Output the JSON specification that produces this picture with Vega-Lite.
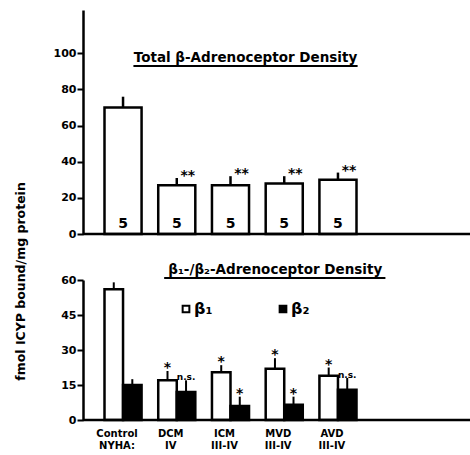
{
  "$schema": "https://vega.github.io/schema/vega-lite/v6.json",
  "padding": {"left": 14, "top": 10, "right": 0, "bottom": 0},
  "spacing": 46,
  "bounds": "flush",
  "config": {
    "font": "DejaVu Sans",
    "view": {"stroke": null},
    "axis": {"labelFont": "DejaVu Sans", "labelFontWeight": "bold", "labelColor": "black", "domainColor": "black", "tickColor": "black", "grid": false, "titleColor": "black", "titleFont": "DejaVu Sans", "titleFontWeight": "bold", "labelOverlap": false},
    "text": {"font": "DejaVu Sans", "fontWeight": "bold", "color": "black"},
    "legend": {"labelFont": "DejaVu Sans", "labelFontWeight": "bold", "labelColor": "black"}
  },
  "datasets": {
    "total": [
      {"group": "Control", "value": 70, "err": 76, "n": 5, "sig": ""},
      {"group": "DCM", "value": 27, "err": 31, "n": 5, "sig": "**"},
      {"group": "ICM", "value": 27, "err": 32, "n": 5, "sig": "**"},
      {"group": "MVD", "value": 28, "err": 32, "n": 5, "sig": "**"},
      {"group": "AVD", "value": 30, "err": 34, "n": 5, "sig": "**"}
    ],
    "subtypes": [
      {"group": "Control", "receptor": "β₁", "value": 56, "err": 59, "sig": ""},
      {"group": "Control", "receptor": "β₂", "value": 15, "err": 17.5, "sig": ""},
      {"group": "DCM", "receptor": "β₁", "value": 17, "err": 21, "sig": "*"},
      {"group": "DCM", "receptor": "β₂", "value": 12, "err": 17, "sig": "n.s."},
      {"group": "ICM", "receptor": "β₁", "value": 20.5, "err": 23.5, "sig": "*"},
      {"group": "ICM", "receptor": "β₂", "value": 6, "err": 10, "sig": "*"},
      {"group": "MVD", "receptor": "β₁", "value": 22, "err": 26.5, "sig": "*"},
      {"group": "MVD", "receptor": "β₂", "value": 6.5, "err": 10, "sig": "*"},
      {"group": "AVD", "receptor": "β₁", "value": 19, "err": 22.5, "sig": "*"},
      {"group": "AVD", "receptor": "β₂", "value": 13, "err": 18, "sig": "n.s."}
    ],
    "title1": [{"t": "Total β-Adrenoceptor Density"}],
    "title2": [{"t": "β₁-/β₂-Adrenoceptor Density"}]
  },
  "vconcat": [
    {
      "width": 387,
      "height": 224,
      "encoding": {
        "x": {"field": "group", "type": "nominal", "sort": ["Control", "DCM", "ICM", "MVD", "AVD"],
          "scale": {"domain": ["Control", "DCM", "ICM", "MVD", "AVD"], "range": [21.5, 273.5], "paddingInner": 0.31, "paddingOuter": 0},
          "axis": null}
      },
      "layer": [
        {
          "data": {"name": "total"},
          "mark": {"type": "bar", "fill": "white", "stroke": "black", "strokeWidth": 2.5},
          "encoding": {
            "y": {"field": "value", "type": "quantitative", "scale": {"domain": [0, 124], "nice": false},
              "axis": {"values": [0, 20, 40, 60, 80, 100], "title": null, "domainWidth": 2.5, "tickWidth": 2, "tickSize": 6, "labelPadding": 1, "labelFontSize": 11}}
          }
        },
        {
          "data": {"name": "total"},
          "mark": {"type": "rule", "stroke": "black", "strokeWidth": 2.5},
          "encoding": {"y": {"field": "value", "type": "quantitative"}, "y2": {"field": "err"}}
        },
        {
          "data": {"name": "title1"},
          "mark": {"type": "rule", "stroke": "black", "strokeWidth": 2.5},
          "encoding": {"x": null, "y": {"datum": 0}}
        },
        {
          "data": {"name": "total"},
          "mark": {"type": "text", "fontSize": 14, "baseline": "middle", "dy": -10},
          "encoding": {"y": {"datum": 0}, "text": {"field": "n"}}
        },
        {
          "data": {"name": "total"},
          "mark": {"type": "text", "fontSize": 14, "baseline": "middle", "dx": 11, "dy": -2},
          "encoding": {"y": {"field": "err", "type": "quantitative"}, "text": {"field": "sig"}}
        },
        {
          "data": {"name": "title1"},
          "mark": {"type": "text", "fontSize": 13.5, "baseline": "middle", "dx": 15},
          "encoding": {"x": {"datum": "ICM"}, "y": {"datum": 97.4}, "text": {"field": "t"}}
        },
        {
          "data": {"name": "title1"},
          "mark": {"type": "rule", "stroke": "black", "strokeWidth": 2},
          "encoding": {"x": {"datum": "Control", "bandPosition": 0.78}, "x2": {"datum": "AVD", "bandPosition": 1.03}, "y": {"datum": 93}}
        }
      ]
    },
    {
      "width": 387,
      "height": 140,
      "encoding": {
        "x": {"field": "group", "type": "nominal", "sort": ["Control", "DCM", "ICM", "MVD", "AVD"],
          "scale": {"domain": ["Control", "DCM", "ICM", "MVD", "AVD"], "range": [21.5, 273.5], "paddingInner": 0.31, "paddingOuter": 0},
          "axis": {"ticks": false, "domain": false, "title": null, "labelAngle": 0, "labelFontSize": 10, "labelPadding": 8, "labelLineHeight": 12, "labelOffset": -6,
            "labelExpr": "datum.value == 'Control' ? ['Control', 'NYHA:'] : datum.value == 'DCM' ? ['DCM', 'IV'] : [datum.value, 'III-IV']"}}
      },
      "layer": [
        {
          "data": {"name": "subtypes"},
          "mark": {"type": "bar", "stroke": "black", "strokeWidth": 2.5},
          "encoding": {
            "xOffset": {"field": "receptor", "sort": ["β₁", "β₂"], "scale": {"paddingInner": 0, "paddingOuter": 0}},
            "y": {"field": "value", "type": "quantitative", "scale": {"domain": [0, 60], "nice": false},
              "axis": {"values": [0, 15, 30, 45, 60], "tickCount": 5, "labelOverlap": false, "title": "fmol ICYP bound/mg protein", "titleX": -63, "titleY": 1, "titleBaseline": "middle", "titleAlign": "center", "titleFontSize": 12.5,
                "domainWidth": 2.5, "tickWidth": 2, "tickSize": 6, "labelPadding": 1, "labelFontSize": 11}},
            "fill": {"field": "receptor", "type": "nominal", "sort": ["β₁", "β₂"], "scale": {"domain": ["β₁", "β₂"], "range": ["white", "black"]},
              "legend": {"title": null, "orient": "none", "legendX": 95, "legendY": 291, "direction": "horizontal", "symbolType": "square", "symbolSize": 45, "symbolStrokeColor": "black", "symbolStrokeWidth": 2, "labelFontSize": 16, "columnPadding": 62, "padding": 0, "labelOffset": 0}}
          }
        },
        {
          "data": {"name": "subtypes"},
          "mark": {"type": "rule", "stroke": "black", "strokeWidth": 2},
          "encoding": {
            "xOffset": {"field": "receptor", "sort": ["β₁", "β₂"]},
            "y": {"field": "value", "type": "quantitative",
              "axis": {"values": [0, 15, 30, 45, 60], "tickCount": 5, "labelOverlap": false, "title": "fmol ICYP bound/mg protein", "titleX": -63, "titleY": 1, "titleBaseline": "middle", "titleAlign": "center", "titleFontSize": 12.5,
                "domainWidth": 2.5, "tickWidth": 2, "tickSize": 6, "labelPadding": 1, "labelFontSize": 11}},
            "y2": {"field": "err"}
          }
        },
        {
          "data": {"name": "title2"},
          "mark": {"type": "rule", "stroke": "black", "strokeWidth": 2.5},
          "encoding": {"x": null, "y": {"datum": 0,
              "axis": {"values": [0, 15, 30, 45, 60], "tickCount": 5, "labelOverlap": false, "title": "fmol ICYP bound/mg protein", "titleX": -63, "titleY": 1, "titleBaseline": "middle", "titleAlign": "center", "titleFontSize": 12.5,
                "domainWidth": 2.5, "tickWidth": 2, "tickSize": 6, "labelPadding": 1, "labelFontSize": 11}}}
        },
        {
          "data": {"name": "subtypes"},
          "mark": {"type": "text", "baseline": "middle", "dy": -3},
          "encoding": {
            "xOffset": {"field": "receptor", "sort": ["β₁", "β₂"]},
            "y": {"field": "err", "type": "quantitative",
              "axis": {"values": [0, 15, 30, 45, 60], "tickCount": 5, "labelOverlap": false, "title": "fmol ICYP bound/mg protein", "titleX": -63, "titleY": 1, "titleBaseline": "middle", "titleAlign": "center", "titleFontSize": 12.5,
                "domainWidth": 2.5, "tickWidth": 2, "tickSize": 6, "labelPadding": 1, "labelFontSize": 11}},
            "text": {"field": "sig"},
            "size": {"condition": {"test": "datum.sig == 'n.s.'", "value": 9}, "value": 14}
          }
        },
        {
          "data": {"name": "title2"},
          "mark": {"type": "text", "fontSize": 13.5, "baseline": "middle", "dx": -9},
          "encoding": {"x": {"datum": "MVD"}, "y": {"datum": 64.3,
              "axis": {"values": [0, 15, 30, 45, 60], "tickCount": 5, "labelOverlap": false, "title": "fmol ICYP bound/mg protein", "titleX": -63, "titleY": 1, "titleBaseline": "middle", "titleAlign": "center", "titleFontSize": 12.5,
                "domainWidth": 2.5, "tickWidth": 2, "tickSize": 6, "labelPadding": 1, "labelFontSize": 11}}, "text": {"field": "t"}}
        },
        {
          "data": {"name": "title2"},
          "mark": {"type": "rule", "stroke": "black", "strokeWidth": 2},
          "encoding": {"x": {"datum": "DCM", "bandPosition": 0.16}, "x2": {"datum": "AVD", "bandPosition": 1.78}, "y": {"datum": 60.9,
              "axis": {"values": [0, 15, 30, 45, 60], "tickCount": 5, "labelOverlap": false, "title": "fmol ICYP bound/mg protein", "titleX": -63, "titleY": 1, "titleBaseline": "middle", "titleAlign": "center", "titleFontSize": 12.5,
                "domainWidth": 2.5, "tickWidth": 2, "tickSize": 6, "labelPadding": 1, "labelFontSize": 11}}}
        }
      ]
    }
  ]
}
